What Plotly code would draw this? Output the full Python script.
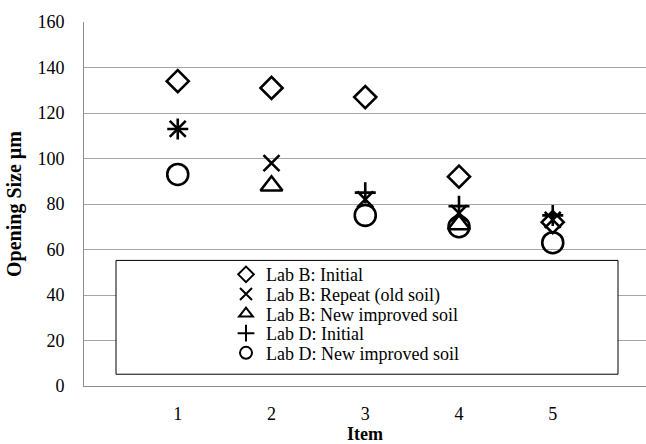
import plotly.graph_objects as go

items = [1, 2, 3, 4, 5]
lab_b_initial = [134, 131, 127, 92, 72]
lab_b_repeat = [113, 98, 82, 76, 73]
lab_b_new = [None, 88, None, 71, None]
lab_d_initial = [113, None, 85, 79, 75]
lab_d_new = [93, None, 75, 70, 63]

series_names = ["Lab B: Initial", "Lab B: Repeat (old soil)", "Lab B: New improved soil",
                "Lab D: Initial", "Lab D: New improved soil"]
series_values = [lab_b_initial, lab_b_repeat, lab_b_new, lab_d_initial, lab_d_new]
symbols = ["diamond-open", "x-thin-open", "triangle-up-open", "cross-thin-open", "circle-open"]
sizes = [17, 16, 19, 15, 21]

FONT = "'Liberation Serif', 'Times New Roman', 'DejaVu Serif', serif"
W, H = 646, 444
L, R, T, B = 84, 0, 22, 51
plot_w = W - L - R
plot_h = H - T - B

fig = go.Figure()
legend_keys = ["legend", "legend2", "legend3", "legend4", "legend5"]
row_centers = [279.5, 299.5, 319.5, 339.5, 359.5]

for name, vals, sym, sz, lk in zip(series_names, series_values, symbols, sizes, legend_keys):
    fig.add_trace(go.Scatter(
        x=items, y=vals, mode="markers", name=name, legend=lk,
        marker=dict(symbol=sym, size=sz, color="black",
                    line=dict(color="black", width=2.6)),
        cliponaxis=False,
    ))

legend_left_px = 226
layout_legends = {}
for lk, rc in zip(legend_keys, row_centers):
    layout_legends[lk] = dict(
        x=(legend_left_px - L) / plot_w, xanchor="left",
        y=(H - B - rc) / plot_h, yanchor="middle",
        bgcolor="rgba(0,0,0,0)", borderwidth=0,
        font=dict(family=FONT, size=18, color="black"),
        itemsizing="constant", itemwidth=30,
    )

fig.update_layout(
    width=W, height=H,
    margin=dict(l=L, r=R, t=T, b=B),
    paper_bgcolor="white", plot_bgcolor="white",
    font=dict(family=FONT, color="black"),
    showlegend=True,
    **layout_legends,
    xaxis=dict(
        range=[0, plot_w / 93.75],
        tickvals=items, ticktext=[str(i) for i in items],
        showgrid=False, zeroline=False,
        showline=True, linecolor="#8c8c8c", linewidth=1,
        ticks="", ticklabelstandoff=11,
        tickfont=dict(family=FONT, size=18, color="black"),
        title=dict(text="Item", standoff=8,
                   font=dict(family=FONT, size=18, color="black", weight="bold")),
    ),
    yaxis=dict(
        range=[0, 160], dtick=20, tick0=0,
        showgrid=True, gridcolor="#a6a6a6", gridwidth=1,
        zeroline=False,
        showline=True, linecolor="#8c8c8c", linewidth=1,
        ticks="", ticklabelstandoff=15,
        tickfont=dict(family=FONT, size=18, color="black"),
        title=dict(text="Opening Size µm", standoff=10,
                   font=dict(family=FONT, size=20, color="black", weight="bold")),
    ),
    shapes=[dict(
        type="rect", xref="paper", yref="paper", layer="above",
        x0=(116 - L) / plot_w, x1=(618 - L) / plot_w,
        y0=(H - B - 381) / plot_h, y1=(H - B - 265) / plot_h,
        line=dict(color="black", width=1), fillcolor="white",
    )],
)

fig.write_html("out.html", config={"displayModeBar": False},
               post_script="document.body.style.margin='0';document.body.style.overflow='hidden';")
